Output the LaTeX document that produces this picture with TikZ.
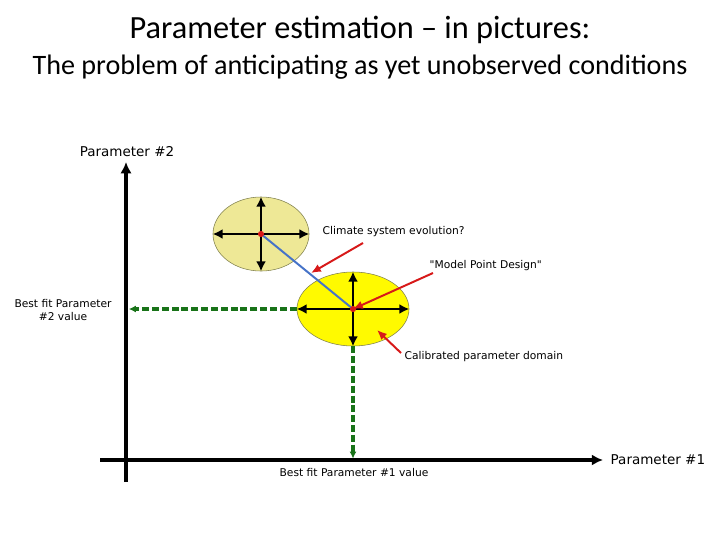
\documentclass[tikz,border=0pt]{standalone}
\usepackage{fontspec}
\setmainfont{Carlito}
\newfontfamily\sketchfont{DejaVu Sans}
\usepackage{tikz}
\usetikzlibrary{positioning,%
  arrows.meta,%
  shapes.geometric,%
  calc
}

\definecolor{paleyellow}{RGB}{238,232,150}
\definecolor{brightyellow}{RGB}{255,250,0}
\definecolor{rimolive}{RGB}{130,130,80}
\definecolor{fitgreen}{RGB}{25,115,25}
\definecolor{pointred}{RGB}{215,25,25}
\definecolor{trackblue}{RGB}{70,115,200}

\begin{document}
\begin{tikzpicture}
            [
                x=0.025cm,y=-0.025cm,
                region/.style={ellipse,draw=rimolive,inner sep=0pt,minimum height=1.85cm},
                spread/.style={-{Latex[length=7pt,width=7pt]},line width=1.6pt},
                axis/.style={-{Latex[length=8pt,width=8pt]},line width=2.8pt},
                fitline/.style={-{Latex[length=5pt,width=5pt]},fitgreen,line width=2.3pt,dash pattern=on 5pt off 2pt},
                pointer/.style={-{Latex[length=7pt,width=6pt]},pointred,line width=1.4pt},
                lbl/.style={font=\sketchfont\fontsize{7.6}{9}\selectfont,inner sep=1pt},
                axlbl/.style={font=\sketchfont\fontsize{9.6}{11}\selectfont,inner sep=1pt}
            ]
            \useasboundingbox (0,0) rectangle (720,540);

            \node (title) at (360,30) {\fontsize{23}{27}\selectfont Parameter estimation -- in pictures:};
            \node (subtitle) at (360,67) {\fontsize{20}{24}\selectfont The problem of anticipating as yet unobserved conditions};

            \coordinate (origin) at (126,460);
            \coordinate (ybot) at (126,482);
            \coordinate (ytop) at (126,162);
            \coordinate (xleft) at (100,460);
            \coordinate (xright) at (603,460);
            \draw[axis] (ybot) -- (ytop);
            \draw[axis] (xleft) -- (xright);

            \node[region,fill=paleyellow,minimum width=2.4cm] (prior) at (261,234) {};
            \node[region,fill=brightyellow,minimum width=2.8cm] (calib) at (353,309) {};

            \draw[trackblue,line width=1.4pt] (prior.center) -- (calib.center);

            \foreach \r in {prior,calib}
                \foreach \a in {north,south,east,west}
                    \draw[spread] (\r.center) -- (\r.\a);
            \foreach \r in {prior,calib}
                \fill[pointred] (\r.center) circle (2.2pt);

            \draw[fitline] (calib.west) -- ([xshift=2pt]calib.west -| origin);
            \draw[fitline] (calib.south) -- ([yshift=1pt]calib.south |- origin);

            \node[axlbl] (p2lbl) at (127,152) {Parameter \#2};
            \node[axlbl,anchor=west] (p1lbl) at (609,460) {Parameter \#1};
            \node[lbl,anchor=west] (evolbl) at (321,232) {Climate system evolution?};
            \node[lbl,anchor=west] (designlbl) at (428,266) {"Model Point Design"};
            \node[lbl,anchor=west] (calibl) at (403,357) {Calibrated parameter domain};
            \node[lbl,align=center] (fit2lbl) at (63,310) {Best fit Parameter\\\#2 value};
            \node[lbl] (fit1lbl) at (354,473) {Best fit Parameter \#1 value};

            \coordinate (evotail) at (363,243);
            \coordinate (evohit) at (311,273);
            \coordinate (designtail) at (433,273);
            \coordinate (calibtail) at (401,353);
            \coordinate (calibhit) at (377,330);
            \draw[pointer] (evotail) -- (evohit);
            \draw[pointer] (designtail) -- (calib.center);
            \draw[pointer] (calibtail) -- (calibhit);
        \end{tikzpicture}
\end{document}
